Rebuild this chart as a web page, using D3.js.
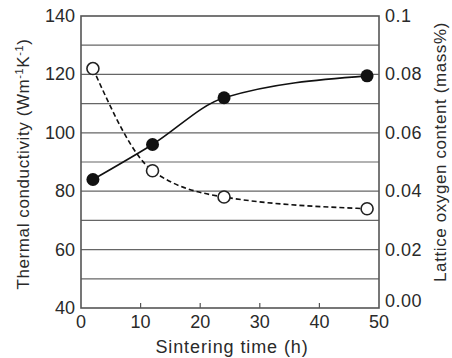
<!DOCTYPE html>
<html>
<head>
<meta charset="utf-8">
<script src="https://cdn.jsdelivr.net/npm/d3@7"></script>
<style>
body { margin:0; background:#fff; }
svg text { font-family: "Liberation Sans", Arial, sans-serif; fill:#2a2a2a; }
</style>
</head>
<body>
<div id="chart"></div>
<script>
// sintering time (h)
var timeK = [2, 12, 24, 48];
var conductivity = [84, 96, 112, 119.5];
var timeO = [2, 12, 24, 48];
var oxygen = [0.082, 0.047, 0.038, 0.034];
var xTicks = [0, 10, 20, 30, 40, 50];
var leftTicks = [40, 60, 80, 100, 120, 140];
var rightTicks = [0, 0.02, 0.04, 0.06, 0.08, 0.1];
var rightLabels = ["0.00", "0.02", "0.04", "0.06", "0.08", "0.1"];

var W = 452, H = 358;
var m = {left:81, right:73, top:16, bottom:50};
var w = W - m.left - m.right, h = H - m.top - m.bottom;

var svg = d3.select("#chart").append("svg")
	.attr("width", W).attr("height", H);
var g = svg.append("g").attr("transform", "translate(" + m.left + "," + m.top + ")");

var x = d3.scaleLinear().domain([0, 50]).range([0, w]);
var yL = d3.scaleLinear().domain([40, 140]).range([h, 0]);
var yR = d3.scaleLinear().domain([0, 0.1]).range([h, 0]);

// horizontal grid every 10
g.selectAll(".grid").data(d3.range(50, 140, 10)).enter()
	.append("line")
	.attr("x1", 0).attr("x2", w)
	.attr("y1", function(d){ return yL(d); })
	.attr("y2", function(d){ return yL(d); })
	.attr("stroke", "#666").attr("stroke-width", 1.2);

// x ticks pointing up
g.selectAll(".xt").data(xTicks.slice(1, 5)).enter()
	.append("line")
	.attr("x1", function(d){ return x(d); }).attr("x2", function(d){ return x(d); })
	.attr("y1", h).attr("y2", h - 5)
	.attr("stroke", "#555").attr("stroke-width", 1.2);

g.append("rect")
	.attr("width", w).attr("height", h)
	.attr("fill", "none").attr("stroke", "#555").attr("stroke-width", 1.6);

// tick labels
g.selectAll(".xl").data(xTicks).enter()
	.append("text")
	.attr("x", function(d){ return x(d); })
	.attr("y", h + 20)
	.attr("text-anchor", "middle")
	.style("font-size", "18px")
	.text(function(d){ return d; });

g.selectAll(".ll").data(leftTicks).enter()
	.append("text")
	.attr("x", -6)
	.attr("y", function(d){ return yL(d) + 6; })
	.attr("text-anchor", "end")
	.style("font-size", "18px")
	.text(function(d){ return d; });

g.selectAll(".rl").data(rightTicks).enter()
	.append("text")
	.attr("x", w + 6)
	.attr("y", function(d, i){ return yR(d) + (i == 0 ? -1 : 6); })
	.style("font-size", "18px")
	.style("letter-spacing", "0.5px")
	.text(function(d, i){ return rightLabels[i]; });

// axis titles
svg.append("text")
	.attr("x", m.left + w / 2 + 2).attr("y", H - 5)
	.attr("text-anchor", "middle")
	.style("font-size", "18px")
	.style("letter-spacing", "0.9px")
	.text("Sintering time (h)");

svg.append("text")
	.attr("transform", "translate(29," + (m.top + h / 2 + 2) + ") rotate(-90)")
	.attr("text-anchor", "middle")
	.style("font-size", "17px")
	.style("letter-spacing", "0.6px")
	.html("Thermal conductivity (Wm<tspan dy='-6' style='font-size:11px'>-1</tspan><tspan dy='6'>K</tspan><tspan dy='-6' style='font-size:11px'>-1</tspan><tspan dy='6'>)</tspan>");

svg.append("text")
	.attr("transform", "translate(446," + (m.top + h / 2 - 10) + ") rotate(-90)")
	.attr("text-anchor", "middle")
	.style("font-size", "17px")
	.style("letter-spacing", "0.6px")
	.text("Lattice oxygen content (mass%)");

// curves
var lineK = d3.line()
	.x(function(d, i){ return x(timeK[i]); })
	.y(function(d){ return yL(d); })
	.curve(d3.curveMonotoneX);
var lineO = d3.line()
	.x(function(d, i){ return x(timeO[i]); })
	.y(function(d){ return yR(d); })
	.curve(d3.curveMonotoneX);

g.append("path").datum(conductivity)
	.attr("d", lineK)
	.attr("fill", "none").attr("stroke", "#111").attr("stroke-width", 1.6);
g.append("path").datum(oxygen)
	.attr("d", lineO)
	.attr("fill", "none").attr("stroke", "#111").attr("stroke-width", 1.6)
	.attr("stroke-dasharray", "5,3");

g.selectAll(".pk").data(conductivity).enter()
	.append("circle")
	.attr("cx", function(d, i){ return x(timeK[i]); })
	.attr("cy", function(d){ return yL(d); })
	.attr("r", 6.5)
	.attr("fill", "#111");

g.selectAll(".po").data(oxygen).enter()
	.append("circle")
	.attr("cx", function(d, i){ return x(timeO[i]); })
	.attr("cy", function(d){ return yR(d); })
	.attr("r", 6)
	.attr("fill", "#fff").attr("stroke", "#222").attr("stroke-width", 1.6);
</script>
</body>
</html>
